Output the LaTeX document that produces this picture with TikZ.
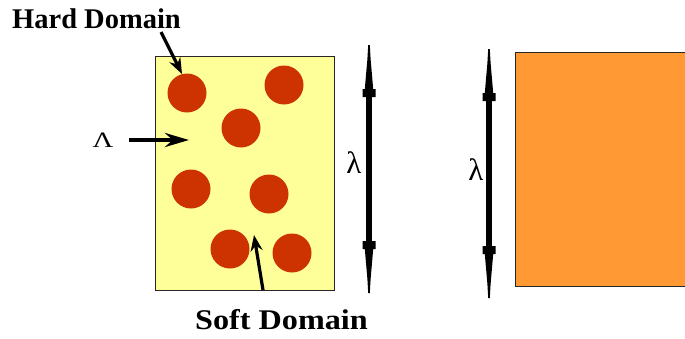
\documentclass[tikz,border=0pt]{standalone}
\usepackage{fontspec}
\setmainfont{Liberation Serif}
\usetikzlibrary{arrows.meta}
\definecolor{softyellow}{HTML}{FFFF99}
\definecolor{hardred}{HTML}{CC3300}
\definecolor{bulkorange}{HTML}{FF9933}
\tikzset{
  box/.style={draw=black!85, line width=0.8pt, inner sep=0pt, anchor=north west},
  grain/.style={circle, fill=hardred, minimum size=39pt, inner sep=0pt},
  caption/.style={font=\fontsize{28.5}{28.5}\selectfont\bfseries, inner sep=0pt},
  sym/.style={font=\fontsize{31}{31}\selectfont, inner sep=0pt},
  pointer/.style={line width=3.2pt, -{Stealth[length=16pt,width=12pt]}},
  shaft/.style={line width=6pt},
  pics/dimhead/.style={code={
    \fill (-0.8,0) -- (0.8,0) -- (1.6,14) -- (4.2,44) -- (6.5,44) -- (6.5,52)
      -- (-6.5,52) -- (-6.5,44) -- (-4.2,44) -- (-1.6,14) -- cycle;
  }}
}
\begin{document}
\begin{tikzpicture}[x=1pt, y=-1pt]
  \useasboundingbox (0,0) rectangle (685,338);

  % two-phase material: soft matrix with hard inclusions
  \node[box, fill=softyellow, minimum width=179pt, minimum height=234pt] (soft) at (155,56) {};
  \node[grain] (g1) at (187,93) {};
  \node[grain] (g2) at (284,85) {};
  \node[grain] (g3) at (241,128) {};
  \node[grain] (g4) at (191,189) {};
  \node[grain] (g5) at (269,194) {};
  \node[grain] (g6) at (230,249) {};
  \node[grain] (g7) at (292,253) {};

  % homogeneous material, running off the right edge
  \node[box, fill=bulkorange, minimum width=190pt, minimum height=234pt] (bulk) at (515,52) {};

  % labels
  \node[caption, anchor=base west] (hard) at (12,28) {Hard Domain};
  \node[caption, anchor=base west] (softlbl) at (195,329) {\scalebox{1.13}[1]{Soft Domain}};
  \node[font=\fontsize{22}{22}\selectfont, inner sep=0pt] (Lam) at (103,140) {\scalebox{1.3}[1]{Λ}};
  \node[sym] (lamA) at (354,163) {λ};
  \node[sym] (lamB) at (476,170) {λ};

  % pointers
  \coordinate (hardtail) at (161,32);
  \coordinate (hardtip) at (182,74);
  \draw[pointer] (hardtail) -- (hardtip);
  \coordinate (softtail) at (263,290);
  \coordinate (softtip) at (254,235);
  \draw[pointer] (softtail) -- (softtip);
  \coordinate (Lamtail) at (129,140);
  \coordinate (Lamtip) at (189,140);
  \draw[line width=4.4pt, -{Stealth[length=24pt,width=14pt]}] (Lamtail) -- (Lamtip);

  % wavelength bars
  \coordinate (aTop) at (369,45);
  \coordinate (aBot) at (369,293);
  \draw[shaft] ([yshift=-50pt]aTop) -- ([yshift=48pt]aBot);
  \pic at (aTop) {dimhead};
  \pic[rotate=180] at (aBot) {dimhead};

  \coordinate (bTop) at (489,49);
  \coordinate (bBot) at (489,298);
  \draw[shaft] ([yshift=-50pt]bTop) -- ([yshift=48pt]bBot);
  \pic at (bTop) {dimhead};
  \pic[rotate=180] at (bBot) {dimhead};
\end{tikzpicture}
\end{document}
